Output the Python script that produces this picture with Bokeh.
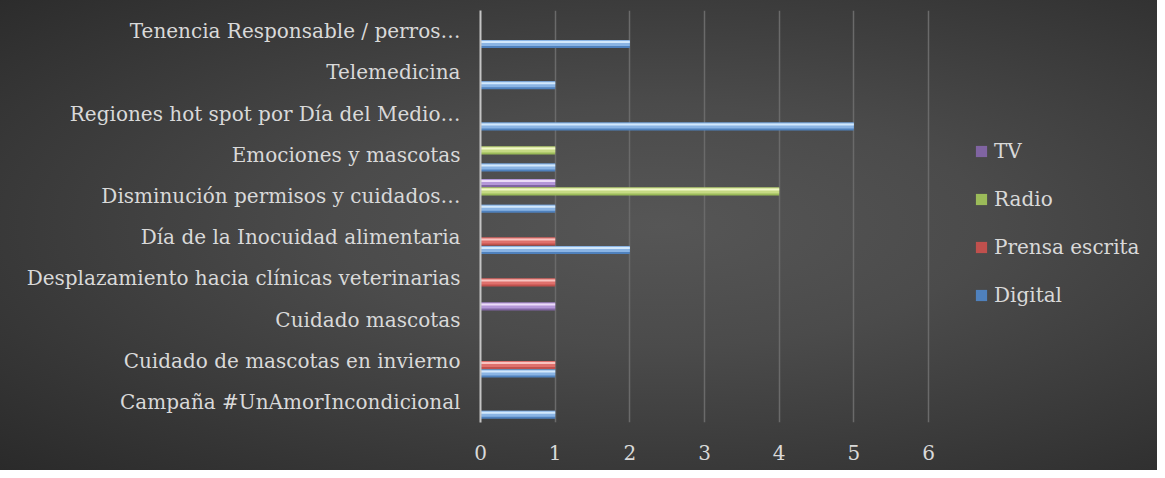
from bokeh.plotting import figure
from bokeh.models import (FactorRange, Range1d, ColumnDataSource, Legend,
                          LegendItem, FixedTicker)
from bokeh.transform import dodge
from bokeh.embed import file_html
from bokeh.resources import INLINE

# ---- data (bottom -> top) ----
categories = [
    "Campaña #UnAmorIncondicional",
    "Cuidado de mascotas en invierno",
    "Cuidado mascotas",
    "Desplazamiento hacia clínicas veterinarias",
    "Día de la Inocuidad alimentaria",
    "Disminución permisos y cuidados…",
    "Emociones y mascotas",
    "Regiones hot spot por Día del Medio…",
    "Telemedicina",
    "Tenencia Responsable / perros…",
]
digital = [1, 1, 0, 0, 2, 1, 1, 5, 1, 2]
prensa = [0, 1, 0, 1, 1, 0, 0, 0, 0, 0]
radio = [0, 0, 0, 0, 0, 4, 1, 0, 0, 0]
tv = [0, 0, 1, 0, 0, 1, 0, 0, 0, 0]
series_names = ["Digital", "Prensa escrita", "Radio", "TV"]
x_ticks = [0, 1, 2, 3, 4, 5, 6]

FONT = "DejaVu Serif"
FS = "20px"
TXT = "#d9d9d9"

W, H = 1157, 470
LEFT, TOP, BOTTOM = 480, 10, 48
frame_w = W - LEFT
unit_px = 448 / 6.0          # pixel length of one unit on the value axis
x_end = frame_w / unit_px     # frame extends under the legend area

p = figure(width=W, height=H, output_backend="svg", toolbar_location=None,
           y_range=FactorRange(*categories), x_range=Range1d(0, x_end),
           min_border_left=LEFT, min_border_right=0, min_border_top=TOP,
           min_border_bottom=BOTTOM,
           background_fill_color=None, border_fill_color=None,
           outline_line_color=None,
           styles={"background": "radial-gradient(ellipse farthest-corner at 57% 48%, #565656 0%, #4b4b4b 35%, #2a2a2a 100%)"})

p.ygrid.grid_line_color = None
p.xgrid.grid_line_color = "#6a6a6a"
p.xgrid.grid_line_width = 1.5
p.xaxis.ticker = FixedTicker(ticks=x_ticks)
p.xaxis.axis_line_color = None
p.xaxis.major_tick_line_color = None
p.xaxis.minor_tick_line_color = None
p.xaxis.major_label_standoff = 16
p.xaxis.major_label_text_font = FONT
p.xaxis.major_label_text_font_size = FS
p.xaxis.major_label_text_color = TXT

p.yaxis.axis_line_color = "#c4c4c4"
p.yaxis.axis_line_width = 2
p.yaxis.major_tick_line_color = None
p.yaxis.minor_tick_line_color = None
p.yaxis.major_label_standoff = 14
p.yaxis.major_label_text_font = FONT
p.yaxis.major_label_text_font_size = FS
p.yaxis.major_label_text_color = TXT

vals = [digital, prensa, radio, tv]
offsets = [-0.313, -0.104, 0.104, 0.313]
base_c = ["#4F81BD", "#C0504D", "#9BBB59", "#8064A2"]
mid_c = ["#8ab4e4", "#df706c", "#c6da84", "#b497d8"]
hi_c = ["#d2e8fc", "#f9c3c0", "#f2f8c8", "#ecdcf8"]

px = 1.0 / 41.2
items = []
for name, v, off, bc, mc, hc in zip(series_names, vals, offsets, base_c, mid_c, hi_c):
    cats = [c for c, x in zip(categories, v) if x > 0]
    xs = [x for x in v if x > 0]
    src = ColumnDataSource(dict(cat=cats, val=xs))
    r = p.hbar(y=dodge("cat", off, range=p.y_range), right="val", left=0,
               height=8 * px, source=src, fill_color=bc, line_color=None)
    p.hbar(y=dodge("cat", off + 1 * px, range=p.y_range), right="val", left=0,
           height=6 * px, source=src, fill_color=mc, line_color=None)
    p.hbar(y=dodge("cat", off + 2 * px, range=p.y_range), right="val", left=0,
           height=2 * px, source=src, fill_color=hc, line_color=None)
    items.append(LegendItem(label=name, renderers=[r]))

legend = Legend(items=list(reversed(items)), location=(494, 115),
                orientation="vertical",
                background_fill_alpha=0, border_line_color=None,
                padding=0, margin=0, spacing=24,
                glyph_width=14, glyph_height=14, label_height=20,
                label_standoff=6,
                label_text_font=FONT, label_text_font_size=FS,
                label_text_color=TXT)
p.add_layout(legend, "center")

open("out.html", "w").write(file_html(p, INLINE))
